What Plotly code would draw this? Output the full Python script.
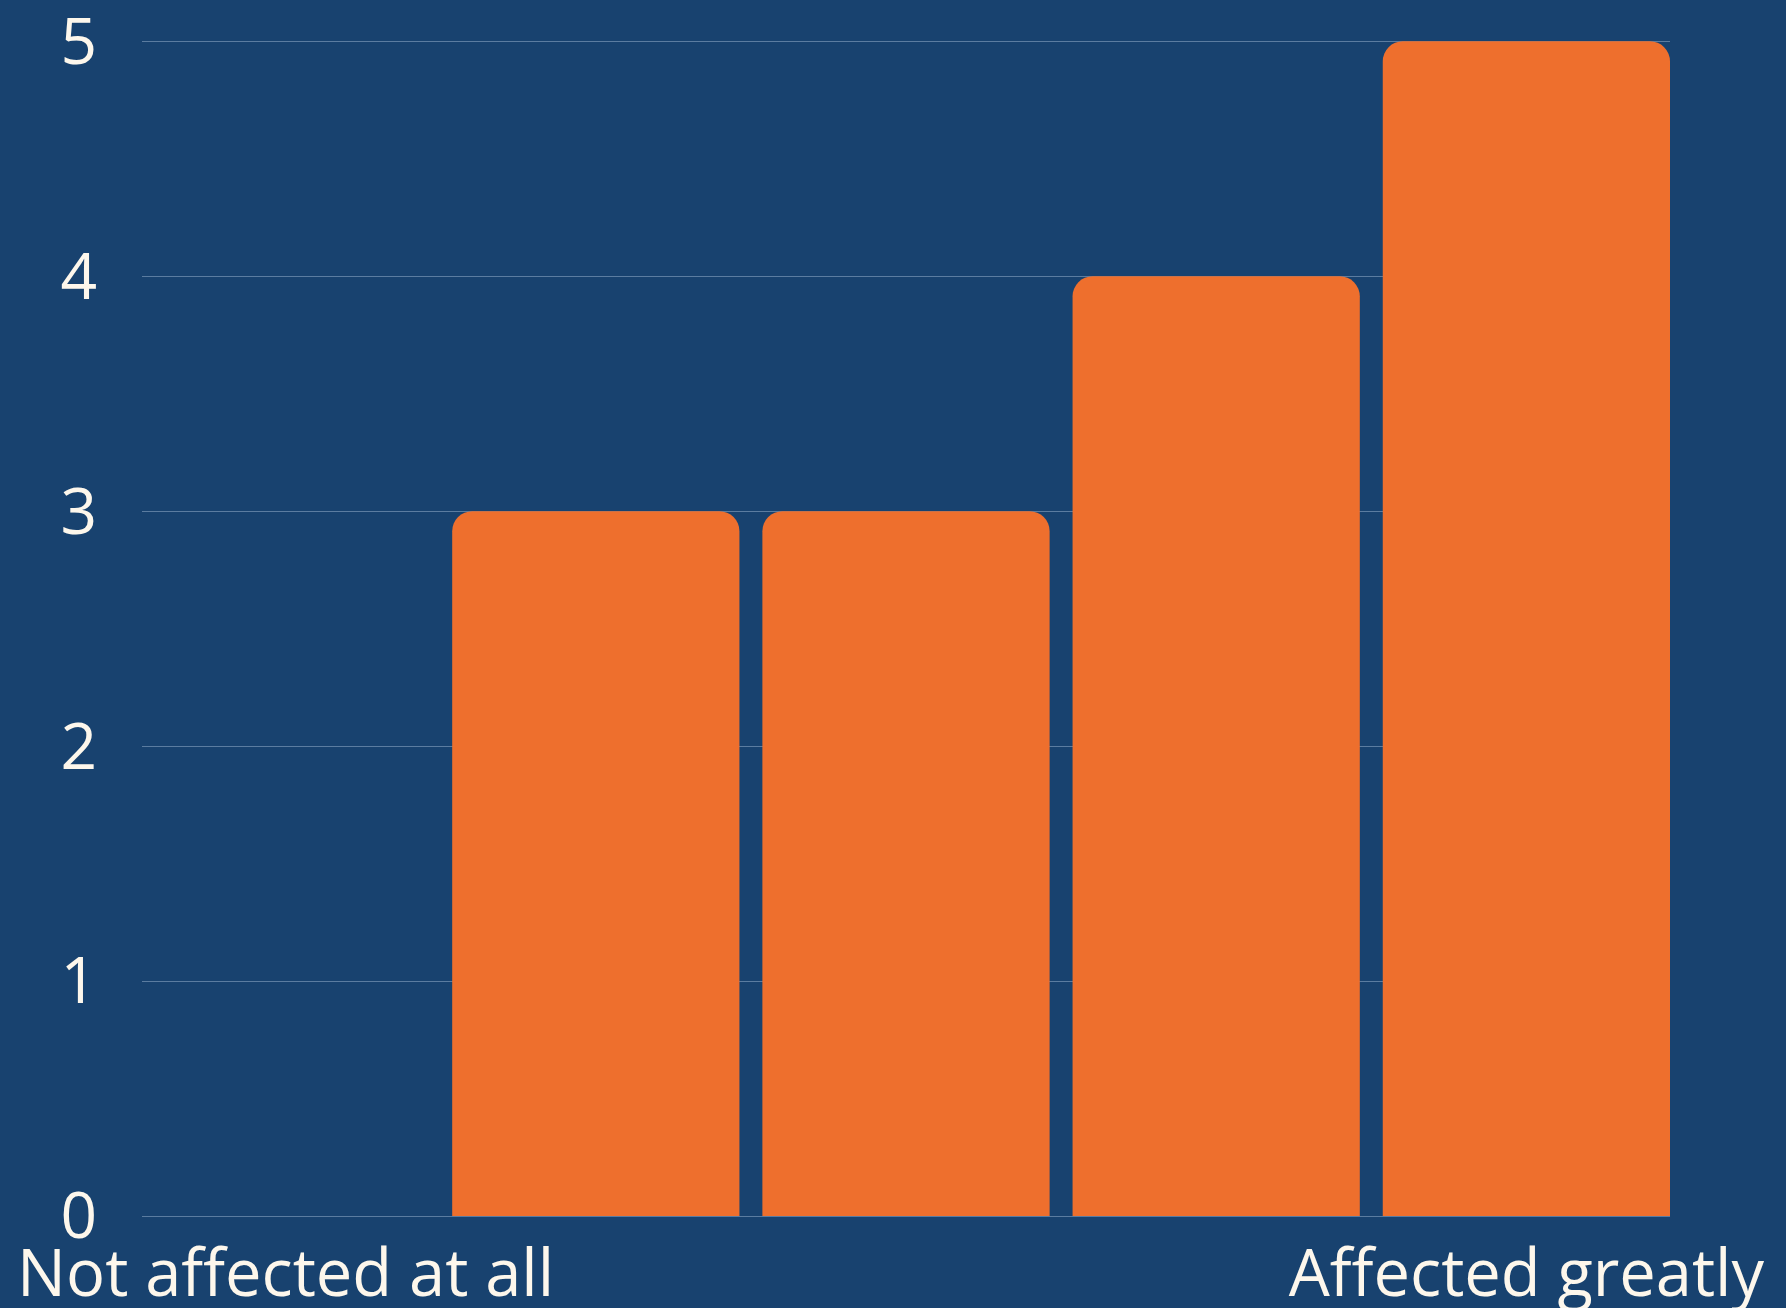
import plotly.graph_objects as go

levels = [1, 2, 3, 4, 5]
counts = [0, 3, 3, 4, 5]
tick_positions = [1, 5]
tick_labels = ["Not affected at all", "Affected greatly"]
y_ticks = [0, 1, 2, 3, 4, 5]

BG = "#18426F"
BAR = "#EE6F2D"
TXT = "#FDF7EC"
GRID = "#5B7CA0"

fig = go.Figure(go.Bar(x=levels, y=counts, marker=dict(color=BAR, line=dict(width=0), cornerradius=20)))
fig.update_layout(
    width=1786, height=1308,
    paper_bgcolor=BG, plot_bgcolor=BG,
    margin=dict(l=142, r=116, t=39, b=92),
    bargap=0.074,
    showlegend=False,
    font=dict(family="Open Sans", color=TXT, size=60),
)
fig.update_xaxes(range=[0.537, 5.463], tickvals=tick_positions, ticktext=tick_labels,
                 showgrid=False, zeroline=False, showline=False, ticks="",
                 automargin=False,
                 ticklabelstandoff=14, ticklabeloverflow="allow",
                 tickfont=dict(size=65, color=TXT))
fig.update_yaxes(range=[0, 5.01], tickvals=y_ticks, showgrid=True, gridcolor=GRID, gridwidth=1,
                 zeroline=True, zerolinecolor=GRID, zerolinewidth=1, showline=False, ticks="",
                 automargin=False,
                 ticklabelstandoff=44, ticklabeloverflow="allow",
                 tickfont=dict(size=64, color=TXT))
fig.write_html("out.html")
